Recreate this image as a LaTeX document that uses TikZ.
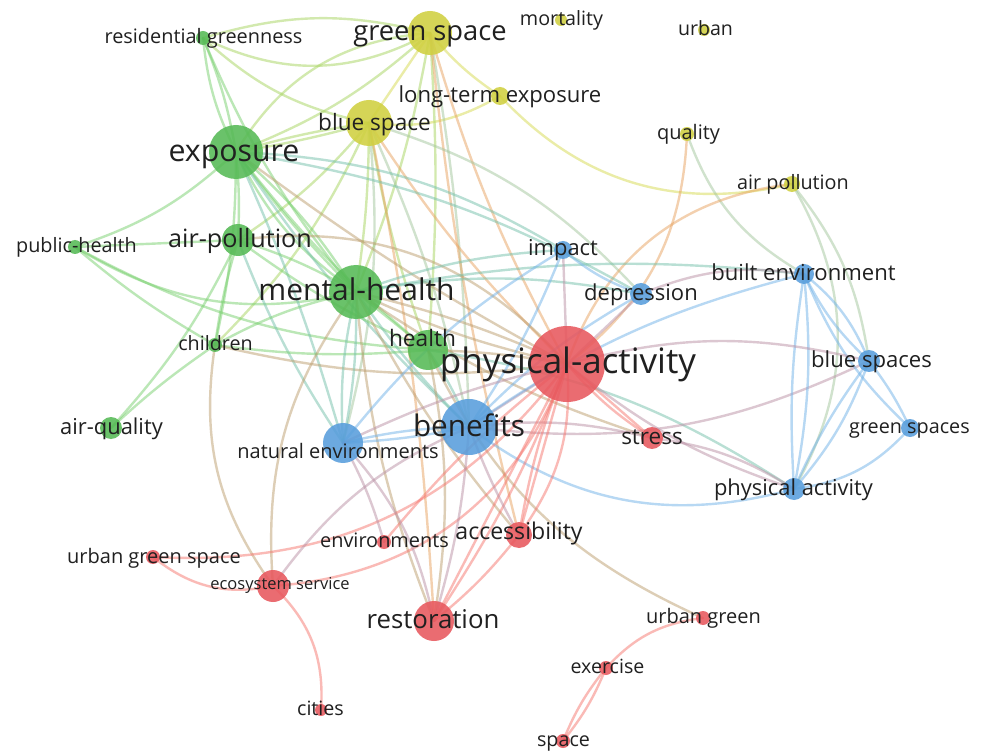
\documentclass[tikz,border=0pt]{standalone}
\usepackage{fontspec}
\setmainfont{Open Sans}
\pgfdeclarelayer{paper}
\pgfdeclarelayer{links}
\pgfsetlayers{paper,links,main}

% cluster colours: nodes and links
\definecolor{nG}{RGB}{86,186,86}
\definecolor{nY}{RGB}{208,208,64}
\definecolor{nB}{RGB}{88,158,220}
\definecolor{nR}{RGB}{232,88,94}
\definecolor{eG}{RGB}{120,208,110}
\definecolor{eY}{RGB}{214,218,80}
\definecolor{eB}{RGB}{112,178,232}
\definecolor{eR}{RGB}{246,118,110}
\colorlet{eGY}{eG!50!eY}
\colorlet{eGB}{eG!50!eB}
\colorlet{eGR}{eG!45!eR}
\colorlet{eYB}{eY!50!eB}
\colorlet{eYR}{eY!45!eR}
\colorlet{eBR}{eB!45!eR}
\definecolor{ink}{RGB}{32,32,32}

\tikzset{
  kw/.style={circle, inner sep=0pt, fill=#1, fill opacity=0.88, draw=none},
  lbl/.style={inner sep=0pt, anchor=base, text=ink},
  link/.style={draw=#1, line width=2.4pt, draw opacity=0.5, line cap=round},
}

% keyword node: name, x, y, diameter, colour
\newcommand\kwnode[5]{\node[kw=#5, minimum size=#4pt] (#1) at (#2,#3) {};}
% label: node name, x, y, font size, text
\newcommand\kwlabel[5]{\node[lbl, font=\fontsize{#4}{#4}\selectfont] (#1-t) at (#2,#3+0.28*#4) {#5};}
% link between two keywords: from, to, colour, bend (positive bulges to the left)
\newcommand\kwlink[4]{\draw[link=#3] (#1.center) to[bend left=#4] (#2.center);}

\begin{document}
\begin{tikzpicture}[x=1pt,y=-1pt]
\useasboundingbox (0,0) rectangle (983,751);
\begin{pgfonlayer}{paper}
\fill[white] (0,0) rectangle (983,751);
\end{pgfonlayer}

% ---------- keywords ----------
\kwnode{gs}{430}{33}{44}{nY}
\kwnode{mort}{561}{20}{12}{nY}
\kwnode{urb}{704}{30}{12}{nY}
\kwnode{rg}{203}{38}{14}{nG}
\kwnode{lte}{500}{96}{18}{nY}
\kwnode{bs}{369}{123}{46}{nY}
\kwnode{qual}{687}{134}{14}{nY}
\kwnode{expo}{236}{152}{54}{nG}
\kwnode{airpol}{792}{184}{16}{nY}
\kwnode{ap}{238}{240}{32}{nG}
\kwnode{ph}{75}{247}{14}{nG}
\kwnode{imp}{563}{250}{18}{nB}
\kwnode{be}{804}{274}{20}{nB}
\kwnode{mh}{356}{292}{54}{nG}
\kwnode{dep}{641}{294}{22}{nB}
\kwnode{ch}{215}{345}{14}{nG}
\kwnode{hl}{428}{350}{40}{nG}
\kwnode{pa}{567}{364}{76}{nR}
\kwnode{bsp}{869}{361}{22}{nB}
\kwnode{aq}{111}{428}{22}{nG}
\kwnode{ben}{469}{427}{56}{nB}
\kwnode{ne}{343}{443}{40}{nB}
\kwnode{str}{652}{438}{22}{nR}
\kwnode{gsp}{910}{428}{18}{nB}
\kwnode{phy}{794}{489}{22}{nB}
\kwnode{acc}{519}{535}{26}{nR}
\kwnode{env}{384}{542}{14}{nR}
\kwnode{ugs}{153}{557}{14}{nR}
\kwnode{eco}{273}{586}{32}{nR}
\kwnode{res}{434}{621}{40}{nR}
\kwnode{ug}{703}{618}{14}{nR}
\kwnode{exe}{606}{668}{14}{nR}
\kwnode{cit}{321}{710}{12}{nR}
\kwnode{spc}{563}{741}{14}{nR}

% ---------- co-occurrence links ----------
\begin{pgfonlayer}{links}
% yellow cluster
\kwlink{rg}{gs}{eGY}{15}
\kwlink{rg}{gs}{eGY}{-27}
\kwlink{rg}{bs}{eGY}{-15}
\kwlink{expo}{gs}{eGY}{27}
\kwlink{gs}{bs}{eY}{0}
\kwlink{gs}{lte}{eY}{-8}
\kwlink{bs}{lte}{eY}{-18}
\kwlink{lte}{airpol}{eY}{-30}
\kwlink{gs}{mh}{eGY}{6}
\kwlink{gs}{hl}{eGY}{4}
\kwlink{gs}{pa}{eYR}{-6}
\kwlink{gs}{ben}{eYB}{4}
\kwlink{gs}{acc}{eYR}{-4}
\kwlink{gs}{expo}{eGY}{10}
\kwlink{bs}{expo}{eGY}{3}
\kwlink{bs}{expo}{eGY}{-4}
\kwlink{bs}{ap}{eGY}{8}
\kwlink{bs}{mh}{eGY}{4}
\kwlink{bs}{hl}{eGY}{-5}
\kwlink{bs}{pa}{eYR}{-6}
\kwlink{bs}{ben}{eYB}{6}
\kwlink{bs}{res}{eYR}{4}
\kwlink{bs}{ne}{eYB}{10}
\kwlink{bs}{dep}{eYB}{15}
\kwlink{bs}{ch}{eGY}{10}
\kwlink{qual}{pa}{eYR}{25}
\kwlink{qual}{be}{eYB}{-20}
\kwlink{airpol}{pa}{eYR}{-32}
\kwlink{airpol}{bsp}{eYB}{15}
\kwlink{airpol}{phy}{eYB}{30}
% green cluster
\kwlink{rg}{expo}{eG}{6}
\kwlink{rg}{expo}{eG}{-10}
\kwlink{rg}{mh}{eG}{-8}
\kwlink{ph}{expo}{eG}{-12}
\kwlink{ph}{ap}{eG}{0}
\kwlink{ph}{mh}{eG}{-22}
\kwlink{ph}{ch}{eG}{-5}
\kwlink{ph}{hl}{eG}{-12}
\kwlink{expo}{ap}{eG}{4}
\kwlink{expo}{mh}{eG}{8}
\kwlink{expo}{mh}{eG}{-4}
\kwlink{expo}{mh}{eG}{-14}
\kwlink{expo}{hl}{eG}{-6}
\kwlink{expo}{ch}{eG}{6}
\kwlink{expo}{ben}{eGB}{-6}
\kwlink{expo}{ne}{eGB}{4}
\kwlink{expo}{pa}{eGR}{-4}
\kwlink{expo}{imp}{eGB}{14}
\kwlink{expo}{dep}{eGB}{10}
\kwlink{ap}{mh}{eG}{6}
\kwlink{ap}{ch}{eG}{-4}
\kwlink{ap}{aq}{eG}{8}
\kwlink{ap}{hl}{eG}{-6}
\kwlink{ap}{pa}{eGR}{28}
\kwlink{ap}{ne}{eGB}{-6}
\kwlink{ch}{mh}{eG}{8}
\kwlink{ch}{hl}{eG}{-6}
\kwlink{ch}{pa}{eGR}{-10}
\kwlink{ch}{aq}{eG}{-4}
\kwlink{ch}{eco}{eGR}{-22}
\kwlink{mh}{eco}{eGR}{-20}
\kwlink{mh}{hl}{eG}{0}
\kwlink{mh}{pa}{eGR}{5}
\kwlink{mh}{pa}{eGR}{-6}
\kwlink{mh}{ben}{eGB}{-5}
\kwlink{mh}{ne}{eGB}{6}
\kwlink{mh}{ne}{eGB}{-8}
\kwlink{mh}{dep}{eGB}{10}
\kwlink{mh}{imp}{eGB}{8}
\kwlink{mh}{res}{eGR}{-8}
\kwlink{mh}{str}{eGR}{-8}
\kwlink{mh}{acc}{eGR}{-6}
\kwlink{mh}{be}{eGB}{8}
\kwlink{hl}{pa}{eGR}{4}
\kwlink{hl}{ben}{eGB}{6}
\kwlink{hl}{res}{eGR}{10}
\kwlink{hl}{phy}{eGB}{12}
\kwlink{ug}{hl}{eGR}{20}
% blue cluster
\kwlink{ben}{ne}{eB}{4}
\kwlink{ben}{ne}{eB}{-6}
\kwlink{ben}{imp}{eB}{-6}
\kwlink{ben}{dep}{eB}{8}
\kwlink{ben}{pa}{eBR}{0}
\kwlink{ben}{phy}{eB}{-26}
\kwlink{ben}{be}{eB}{10}
\kwlink{ben}{bsp}{eBR}{-16}
\kwlink{ben}{str}{eBR}{10}
\kwlink{ne}{imp}{eB}{10}
\kwlink{ne}{pa}{eBR}{6}
\kwlink{imp}{dep}{eB}{-10}
\kwlink{imp}{pa}{eBR}{0}
\kwlink{dep}{pa}{eBR}{0}
\kwlink{dep}{be}{eBR}{15}
\kwlink{be}{bsp}{eB}{14}
\kwlink{be}{bsp}{eB}{-10}
\kwlink{be}{gsp}{eB}{-12}
\kwlink{be}{phy}{eB}{8}
\kwlink{be}{phy}{eB}{-6}
\kwlink{bsp}{gsp}{eB}{6}
\kwlink{bsp}{phy}{eB}{-6}
\kwlink{bsp}{phy}{eB}{10}
\kwlink{gsp}{phy}{eB}{20}
\kwlink{pa}{bsp}{eBR}{14}
\kwlink{pa}{phy}{eBR}{-10}
\kwlink{str}{phy}{eBR}{12}
% red cluster
\kwlink{pa}{str}{eR}{0}
\kwlink{pa}{str}{eR}{-8}
\kwlink{pa}{acc}{eR}{20}
\kwlink{pa}{acc}{eR}{0}
\kwlink{pa}{acc}{eR}{-6}
\kwlink{pa}{res}{eR}{0}
\kwlink{pa}{res}{eR}{6}
\kwlink{pa}{env}{eR}{-6}
\kwlink{pa}{eco}{eR}{33}
\kwlink{ugs}{pa}{eR}{-28}
\kwlink{ben}{acc}{eBR}{-4}
\kwlink{ben}{res}{eBR}{6}
\kwlink{eco}{ugs}{eR}{25}
\kwlink{eco}{cit}{eR}{25}
\kwlink{eco}{ben}{eBR}{15}
\kwlink{res}{ne}{eBR}{-15}
\kwlink{env}{ne}{eBR}{-6}
\kwlink{res}{acc}{eR}{-6}
\kwlink{ug}{exe}{eR}{-20}
\kwlink{exe}{spc}{eR}{8}
\kwlink{exe}{spc}{eR}{-8}
\end{pgfonlayer}

% ---------- labels ----------
\kwlabel{gs}{430}{33}{27.3}{green space}
\kwlabel{mort}{561.5}{20}{19.7}{mortality}
\kwlabel{urb}{705.5}{30}{19.6}{urban}
\kwlabel{rg}{203.5}{38}{19.9}{residential greenness}
\kwlabel{lte}{500}{96}{22.1}{long-term exposure}
\kwlabel{bs}{374.5}{124}{22.6}{blue space}
\kwlabel{qual}{688.5}{134}{20}{quality}
\kwlabel{expo}{234}{153}{30.3}{exposure}
\kwlabel{airpol}{793}{184}{19.8}{air pollution}
\kwlabel{ap}{240}{240}{25.2}{air-pollution}
\kwlabel{ph}{76.5}{247}{19.8}{public-health}
\kwlabel{imp}{563}{249}{21.9}{impact}
\kwlabel{be}{803.5}{274}{22.1}{built environment}
\kwlabel{mh}{356.5}{292}{30}{mental-health}
\kwlabel{dep}{641}{294}{22}{depression}
\kwlabel{ch}{215.5}{345}{19.7}{children}
\kwlabel{hl}{422.5}{340}{22.7}{health}
\kwlabel{pa}{568}{364}{35}{physical-activity}
\kwlabel{bsp}{871.5}{361}{22.1}{blue spaces}
\kwlabel{aq}{111.5}{428}{21.9}{air-quality}
\kwlabel{ben}{469}{428}{29.7}{benefits}
\kwlabel{ne}{338}{453}{20}{natural environments}
\kwlabel{str}{652}{438}{22.5}{stress}
\kwlabel{gsp}{909.5}{428}{19.8}{green spaces}
\kwlabel{phy}{793.5}{489}{21.9}{physical activity}
\kwlabel{acc}{519}{533}{23.1}{accessibility}
\kwlabel{env}{384.5}{542}{19.9}{environments}
\kwlabel{ugs}{154}{558}{20}{urban green space}
\kwlabel{eco}{280}{585}{16.5}{ecosystem service}
\kwlabel{res}{433}{621}{25.8}{restoration}
\kwlabel{ug}{703.5}{618}{20}{urban green}
\kwlabel{exe}{607.5}{668}{19.6}{exercise}
\kwlabel{cit}{320.5}{710}{19.7}{cities}
\kwlabel{spc}{563.5}{741}{19.7}{space}
\end{tikzpicture}
\end{document}
